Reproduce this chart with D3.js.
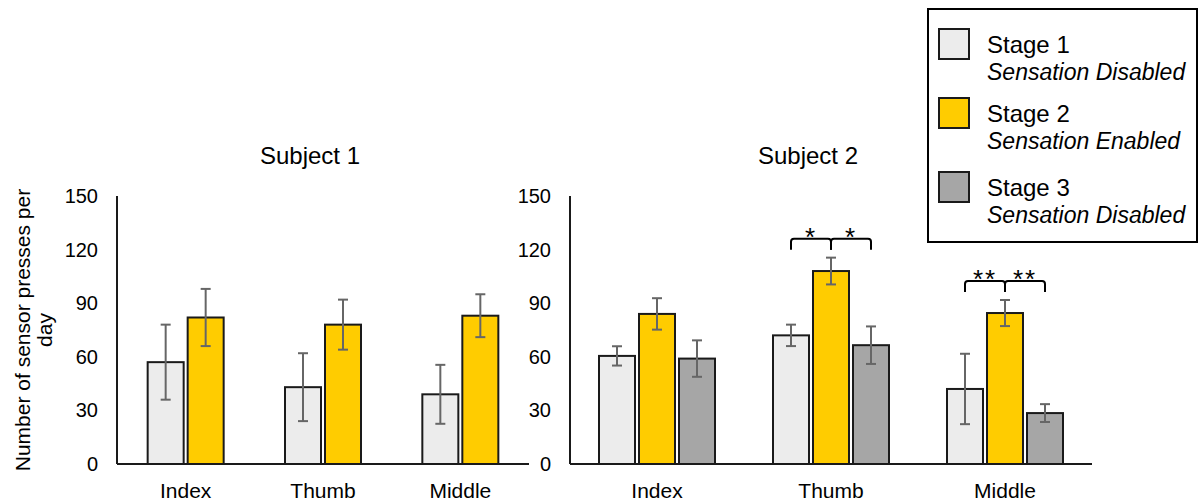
<!DOCTYPE html>
<html>
<head>
<meta charset="utf-8">
<script src="https://cdn.jsdelivr.net/npm/d3@7"></script>
<style>
  html, body { margin: 0; padding: 0; background: #ffffff; }
  svg { display: block; font-family: "Liberation Sans", Arial, Helvetica, sans-serif; }
</style>
</head>
<body>
<svg id="chart" width="1199" height="503"></svg>
<script>
// ---- data ----
const categories = ["Index", "Thumb", "Middle"];
const stageNames = ["Stage 1", "Stage 2", "Stage 3"];
const stageNotes = ["Sensation Disabled", "Sensation Enabled", "Sensation Disabled"];
const stageColors = ["#ececec", "#ffcc00", "#a6a6a6"];
const yTicks = [0, 30, 60, 90, 120, 150];

// Subject 1 (stages 1 and 2)
const subj1Stage1 = [57, 43, 39];
const subj1Stage1Err = [21, 19, 16.5];
const subj1Stage2 = [82, 78, 83];
const subj1Stage2Err = [16, 14, 12];

// Subject 2 (stages 1, 2 and 3)
const subj2Stage1 = [60.5, 72, 42];
const subj2Stage1Err = [5.4, 6, 19.7];
const subj2Stage2 = [84, 108, 84.5];
const subj2Stage2Err = [8.8, 7.5, 7.3];
const subj2Stage3 = [59, 66.5, 28.5];
const subj2Stage3Err = [10.2, 10.5, 5];

// significance brackets for Subject 2
const sigCategory = ["Thumb", "Thumb", "Middle", "Middle"];
const sigFrom = ["Stage 1", "Stage 2", "Stage 1", "Stage 2"];
const sigTo = ["Stage 2", "Stage 3", "Stage 2", "Stage 3"];
const sigLabel = ["*", "*", "**", "**"];

// ---- layout ----
const svg = d3.select("#chart");
const baseY = 464, topY = 196;
const slot = 40;

const y = d3.scaleLinear().domain([0, 150]).range([baseY, topY]);
const color = d3.scaleOrdinal().domain(stageNames).range(stageColors);

function buildSeries(valuesList, errList) {
  return valuesList.map((vals, i) => ({ stage: stageNames[i], values: vals, errs: errList[i] }));
}

const panels = [
  {
    title: "Subject 1", titleX: 310, range: [117, 529],
    series: buildSeries([subj1Stage1, subj1Stage2], [subj1Stage1Err, subj1Stage2Err]),
    brackets: false
  },
  {
    title: "Subject 2", titleX: 808, range: [570, 1092],
    series: buildSeries([subj2Stage1, subj2Stage2, subj2Stage3],
                        [subj2Stage1Err, subj2Stage2Err, subj2Stage3Err]),
    brackets: true
  }
];

panels.forEach(p => {
  const g = svg.append("g");
  const x0 = d3.scaleBand().domain(categories).range(p.range);
  const stages = p.series.map(s => s.stage);
  const half = stages.length * slot / 2;
  const x1 = d3.scaleBand().domain(stages).range([-half, half]);
  const center = c => x0(c) + x0.bandwidth() / 2;
  const barMid = (c, s) => center(c) + x1(s) + x1.bandwidth() / 2;

  // title
  g.append("text")
    .attr("x", p.titleX).attr("y", 164)
    .attr("text-anchor", "middle")
    .attr("font-size", 24)
    .attr("fill", "#000")
    .text(p.title);

  // y axis tick labels (no tick marks)
  const yAxis = d3.axisLeft(y).tickValues(yTicks).tickSize(0).tickPadding(19);
  const ya = g.append("g").attr("transform", `translate(${p.range[0]},0)`).call(yAxis);
  ya.select(".domain").remove();
  ya.selectAll("text").attr("font-size", 20).attr("fill", "#000")
    .attr("font-family", "'Liberation Sans', Arial, sans-serif");

  // bars
  p.series.forEach(s => {
    const rows = categories.map((c, i) => ({ c, v: s.values[i], e: s.errs[i] }));
    g.selectAll(null).data(rows).enter().append("rect")
      .attr("x", d => center(d.c) + x1(s.stage) + 2)
      .attr("width", x1.bandwidth() - 4)
      .attr("y", d => y(d.v))
      .attr("height", d => y(0) - y(d.v))
      .attr("fill", color(s.stage))
      .attr("stroke", "#1a1a1a")
      .attr("stroke-width", 2);
  });

  // error bars
  p.series.forEach(s => {
    const rows = categories.map((c, i) => ({ c, v: s.values[i], e: s.errs[i] }));
    const eg = g.selectAll(null).data(rows).enter().append("g")
      .attr("stroke", "#666").attr("stroke-width", 2).attr("fill", "none");
    eg.append("line")
      .attr("x1", d => barMid(d.c, s.stage)).attr("x2", d => barMid(d.c, s.stage))
      .attr("y1", d => y(d.v + d.e)).attr("y2", d => y(d.v - d.e));
    eg.append("line")
      .attr("x1", d => barMid(d.c, s.stage) - 5).attr("x2", d => barMid(d.c, s.stage) + 5)
      .attr("y1", d => y(d.v + d.e)).attr("y2", d => y(d.v + d.e));
    eg.append("line")
      .attr("x1", d => barMid(d.c, s.stage) - 5).attr("x2", d => barMid(d.c, s.stage) + 5)
      .attr("y1", d => y(d.v - d.e)).attr("y2", d => y(d.v - d.e));
  });

  // axes lines
  g.append("line")
    .attr("x1", p.range[0]).attr("x2", p.range[0])
    .attr("y1", y(150)).attr("y2", baseY)
    .attr("stroke", "#1a1a1a").attr("stroke-width", 2);
  g.append("line")
    .attr("x1", p.range[0]).attr("x2", p.range[1])
    .attr("y1", baseY).attr("y2", baseY)
    .attr("stroke", "#1a1a1a").attr("stroke-width", 2);

  // category labels
  g.selectAll(null).data(categories).enter().append("text")
    .attr("x", d => center(d)).attr("y", 498)
    .attr("text-anchor", "middle")
    .attr("font-size", 21)
    .attr("fill", "#000")
    .text(d => d);

  // significance brackets
  if (p.brackets) {
    const lookup = (c, st) => {
      const s = p.series.find(q => q.stage === st);
      const i = categories.indexOf(c);
      return s.values[i] + s.errs[i];
    };
    sigCategory.forEach((c, k) => {
      const groupTop = d3.max(stages, st => lookup(c, st));
      const bottom = y(groupTop) - 8;
      const top = bottom - 11;
      const xa = barMid(c, sigFrom[k]);
      const xb = barMid(c, sigTo[k]);
      const r = 3;
      const path = d3.path();
      path.moveTo(xa, bottom);
      path.lineTo(xa, top + r);
      path.quadraticCurveTo(xa, top, xa + r, top);
      path.lineTo(xb - r, top);
      path.quadraticCurveTo(xb, top, xb, top + r);
      path.lineTo(xb, bottom);
      g.append("path").attr("d", path.toString())
        .attr("fill", "none").attr("stroke", "#000").attr("stroke-width", 2);
      g.append("text")
        .attr("x", (xa + xb) / 2).attr("y", top + 7.5)
        .attr("text-anchor", "middle")
        .attr("font-size", 26)
        .attr("letter-spacing", 2)
        .attr("fill", "#000")
        .text(sigLabel[k]);
    });
  }
});

// y axis title
const yTitle = svg.append("text")
  .attr("transform", "translate(30,330) rotate(-90)")
  .attr("text-anchor", "middle")
  .attr("font-size", 21)
  .attr("fill", "#000");
yTitle.append("tspan").attr("x", 0).attr("y", 0).text("Number of sensor presses per");
yTitle.append("tspan").attr("x", 0).attr("y", 22).text("day");

// legend
const legend = svg.append("g");
legend.append("rect")
  .attr("x", 928).attr("y", 9).attr("width", 269).attr("height", 233)
  .attr("fill", "#fff").attr("stroke", "#000").attr("stroke-width", 2);
const rowOffsets = [0, 69, 143];
stageNames.forEach((s, i) => {
  const oy = 28 + rowOffsets[i];
  legend.append("rect")
    .attr("x", 939).attr("y", oy + 1).attr("width", 30).attr("height", 30)
    .attr("fill", color(s)).attr("stroke", "#1a1a1a").attr("stroke-width", 2);
  legend.append("text")
    .attr("x", 987).attr("y", oy + 25)
    .attr("font-size", 24).attr("fill", "#000")
    .text(s);
  legend.append("text")
    .attr("x", 987).attr("y", oy + 52)
    .attr("font-size", 23).attr("font-style", "italic").attr("fill", "#000")
    .text(stageNotes[i]);
});
</script>
</body>
</html>
